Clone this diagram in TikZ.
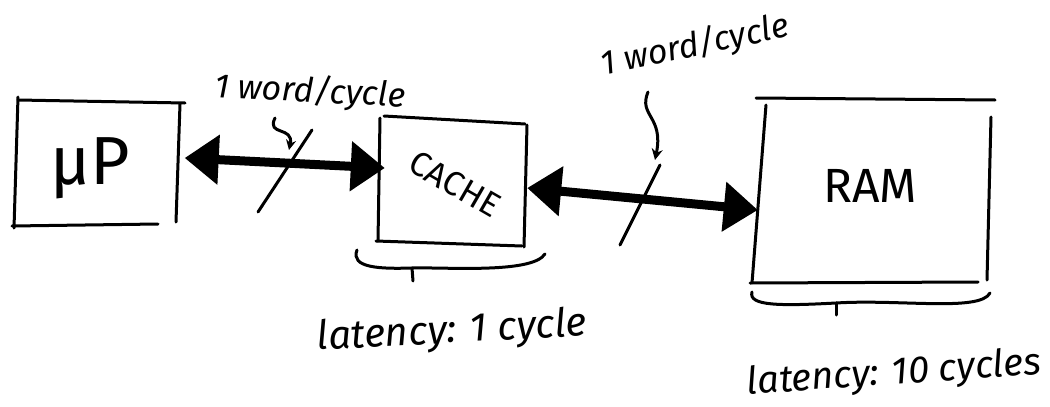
\documentclass[tikz,border=0pt]{standalone}
\usepackage{fontspec}
\setmainfont{Fira Sans}
\usetikzlibrary{arrows.meta}
\begin{document}
\begin{tikzpicture}[x=1pt,y=-1pt,
  pen/.style={line width=3pt,line cap=round,line join=round},
  bus/.style={line width=9pt,
    {Triangle[length=34pt,width=48pt]}-{Triangle[length=34pt,width=48pt]}},
  blockbox/.style={rectangle,draw=none,inner sep=0pt},
  hand/.style={font=\itshape,inner sep=0pt}]
\useasboundingbox (0,0) rectangle (1050,407);

% blocks (outlines drawn as sketched strokes below)
\node[blockbox,minimum width=165pt,minimum height=128pt] (mup) at (98,162) {};
\node[blockbox,minimum width=146pt,minimum height=126pt] (cache) at (452,180) {};
\node[blockbox,minimum width=230pt,minimum height=186pt] (ram) at (874,190) {};

\node[hand,font=\fontsize{68}{68}\selectfont] (mupt) at (90,168) {µP};
\node[hand,font=\fontsize{34}{34}\selectfont,rotate=-30] (cachet) at (455,184) {CACHE};
\node[hand,font=\fontsize{48}{48}\selectfont] (ramt) at (870,186) {RAM};

% µP outline
\draw[pen] (18,100) -- (185,103);
\draw[pen] (18,97) -- (14,228);
\draw[pen] (12,226) -- (158,224);
\draw[pen] (180,104) -- (176,222);
% cache outline
\draw[pen] (384,116) -- (525,124);
\draw[pen] (380,118) -- (378,241);
\draw[pen] (376,241) -- (522,246);
\draw[pen] (527,125) -- (524,247);
% RAM outline
\draw[pen] (756,98) -- (995,100);
\draw[pen] (766,105) -- (752,283);
\draw[pen] (750,283) -- (978,282);
\draw[pen] (991,117) -- (987,280);

% buses
\draw[bus] ([shift={(4,-4)}]mup.east) -- ([shift={(6,-12)}]cache.west);
\draw[bus] ([shift={(2,8)}]cache.east) -- ([shift={(-1,20)}]ram.west);

% bus-width marks
\coordinate (s1a) at (258,212); \coordinate (s1b) at (312,130);
\coordinate (s2a) at (620,245); \coordinate (s2b) at (660,165);
\draw[pen] (s1a) -- (s1b);
\draw[pen] (s2a) -- (s2b);

\node[hand,font=\fontsize{34}{34}\selectfont\itshape,rotate=-3] (w1) at (310,92) {1 word/cycle};
\node[hand,font=\fontsize{34}{34}\selectfont\itshape,rotate=12] (w2) at (695,46) {1 word/cycle};

\coordinate (p1) at (289,150);
\coordinate (p2) at (655,160);
\draw[pen,-{Stealth[length=10pt,width=10pt]}] (275,118) .. controls (266,136) and (294,126) .. (p1);
\draw[pen,-{Stealth[length=11pt,width=11pt]}] (648,92) .. controls (638,116) and (664,116) .. (p2);

% latency braces
\draw[pen] (357,250) .. controls (350,268) and (380,269) .. (412,268)
           .. controls (445,267) and (532,274) .. (545,254);
\draw[pen] (412,268) -- (413,281);
\draw[pen] (752,292) .. controls (748,306) and (780,306) .. (836,303)
           .. controls (900,299) and (980,312) .. (990,293);
\draw[pen] (836,303) -- (836,315);

\node[hand,font=\fontsize{40}{40}\selectfont\itshape,rotate=3] (l1) at (452,332) {latency: 1 cycle};
\node[hand,font=\fontsize{38}{38}\selectfont\itshape,rotate=4] (l2) at (894,374) {latency: 10 cycles};
\end{tikzpicture}
\end{document}
